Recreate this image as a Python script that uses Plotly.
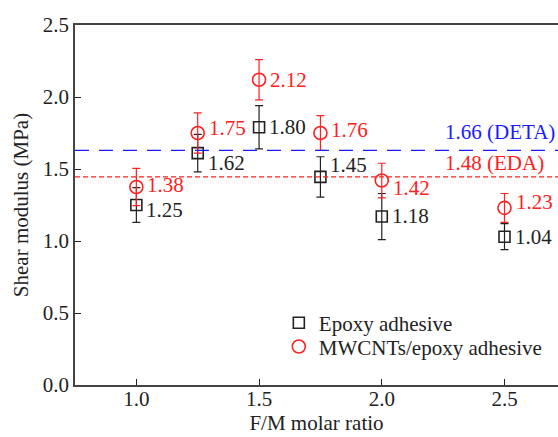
import plotly.graph_objects as go

ratio = [1.0, 1.25, 1.5, 1.75, 2.0, 2.5]
epoxy = [1.25, 1.61, 1.79, 1.445, 1.17, 1.03]
epoxy_err = [0.12, 0.13, 0.15, 0.14, 0.16, 0.09]
epoxy_labels = ["1.25", "1.62", "1.80", "1.45", "1.18", "1.04"]
mwcnt = [1.375, 1.75, 2.12, 1.75, 1.42, 1.23]
mwcnt_err = [0.13, 0.14, 0.14, 0.12, 0.12, 0.10]
mwcnt_labels = ["1.38", "1.75", "2.12", "1.76", "1.42", "1.23"]
ref_values = [1.63, 1.445]
ref_labels = ["1.66 (DETA)", "1.48 (EDA)"]
ref_colors = ["#1a1aff", "#ff2020"]
ref_dash = ["14px,10px", "5px,3px"]

FONT = "Liberation Serif, Times New Roman, serif"
BLACK = "#222222"
RED = "#ff2020"
FS = 21

fig = go.Figure()

for v, lab, c, d in zip(ref_values, ref_labels, ref_colors, ref_dash):
    fig.add_hline(y=v, line=dict(color=c, width=1.3, dash=d))

fig.add_trace(go.Scatter(
    x=ratio, y=epoxy, mode="markers", name="Epoxy adhesive", legend="legend",
    marker=dict(symbol="square-open", size=11, color=BLACK, line=dict(width=1.6)),
    error_y=dict(type="data", array=epoxy_err, color=BLACK, thickness=1.2, width=4),
))
fig.add_trace(go.Scatter(
    x=ratio, y=mwcnt, mode="markers", name="MWCNTs/epoxy adhesive", legend="legend2",
    marker=dict(symbol="circle-open", size=13, color=RED, line=dict(width=1.6)),
    error_y=dict(type="data", array=mwcnt_err, color=RED, thickness=1.2, width=4),
))

# point labels (offsets in pixels)
ep_dy = [-5, -10, 0, 12, 1, 0]
mw_dy = [2, 5, 0, 3, -7, 6]
for x, y, t, dy in zip(ratio, epoxy, epoxy_labels, ep_dy):
    fig.add_annotation(x=x, y=y, text=t, showarrow=False, xanchor="left",
                       xshift=8, yshift=dy, font=dict(family=FONT, size=FS, color=BLACK))
for x, y, t, dy in zip(ratio, mwcnt, mwcnt_labels, mw_dy):
    fig.add_annotation(x=x, y=y, text=t, showarrow=False, xanchor="left",
                       xshift=9, yshift=dy, font=dict(family=FONT, size=FS, color=RED))

ref_dy = [18, 14]
for v, lab, c, dy in zip(ref_values, ref_labels, ref_colors, ref_dy):
    fig.add_annotation(x=2.25, y=v, text=lab, showarrow=False, xanchor="left",
                       yshift=dy, font=dict(family=FONT, size=FS, color=c))

leg_common = dict(xanchor="left", yanchor="middle", bgcolor="rgba(0,0,0,0)",
                  font=dict(family=FONT, size=FS, color=BLACK), itemwidth=30)
fig.update_layout(
    width=558, height=437,
    margin=dict(l=75, r=0, t=25, b=52),
    paper_bgcolor="white", plot_bgcolor="white",
    font=dict(family=FONT, size=FS, color=BLACK),
    showlegend=True,
    legend=dict(x=0.422, y=0.172, **leg_common),
    legend2=dict(x=0.422, y=0.106, **leg_common),
)
fig.update_xaxes(
    range=[0.75, 2.718], tickvals=[1.0, 1.5, 2.0, 2.5], ticktext=["1.0", "1.5", "2.0", "2.5"],
    ticks="inside", ticklen=6, tickcolor=BLACK, tickwidth=1.2, ticklabelstandoff=-6,
    showline=True, linecolor="#444444", linewidth=1.5, mirror=True,
    showgrid=False, zeroline=False,
    title=dict(text="F/M molar ratio", font=dict(family=FONT, size=FS), standoff=4),
)
fig.update_yaxes(
    range=[0, 2.5], tickvals=[0, 0.5, 1.0, 1.5, 2.0, 2.5],
    ticktext=["0.0", "0.5", "1.0", "1.5", "2.0", "2.5"],
    ticks="inside", ticklen=6, tickcolor=BLACK, tickwidth=1.2,
    showline=True, linecolor="#444444", linewidth=1.5,
    showgrid=False, zeroline=False,
    title=dict(text="Shear modulus (MPa)", font=dict(family=FONT, size=FS), standoff=8),
)

fig.write_html("out.html")
